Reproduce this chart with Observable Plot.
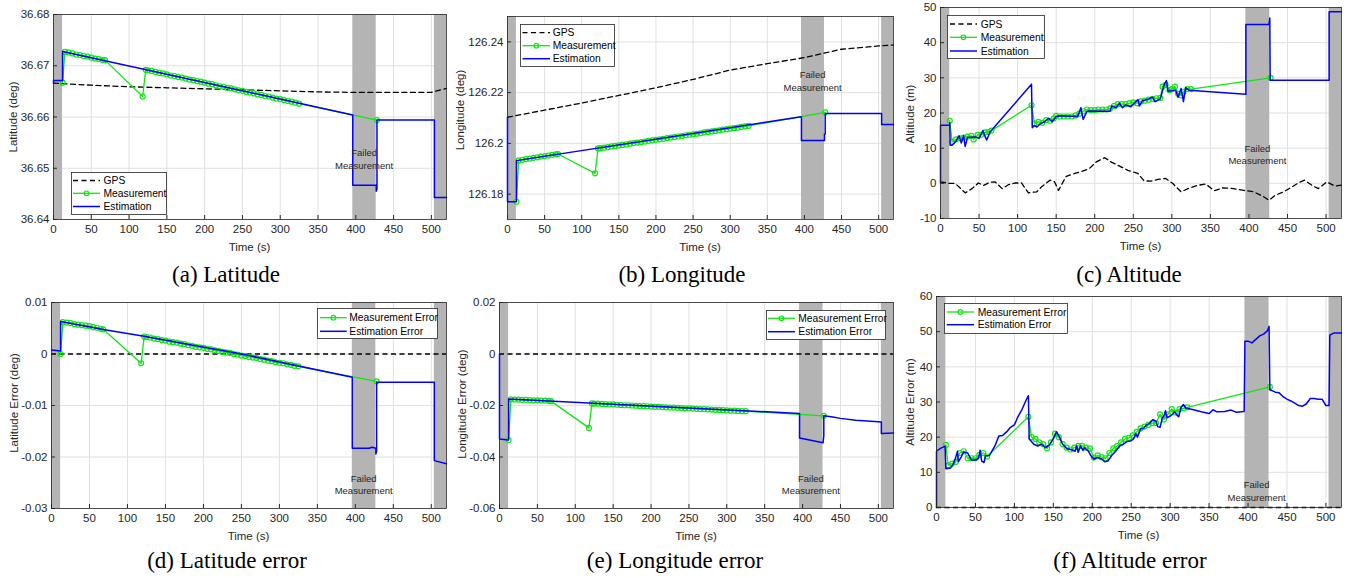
<!DOCTYPE html>
<html><head><meta charset="utf-8">
<script src="https://cdn.jsdelivr.net/npm/d3@7"></script>
<script src="https://cdn.jsdelivr.net/npm/@observablehq/plot@0.6"></script>
<style>
body{margin:0;background:#fff;}
#root{position:relative;width:1348px;height:578px;overflow:hidden;font-family:"Liberation Sans",Arial,Helvetica,sans-serif;color:#262626;background:#fff;}
.ylab{position:absolute;transform:translate(-50%,-50%) rotate(-90deg);white-space:nowrap;font-size:11.5px;color:#262626;}
.xlab{position:absolute;transform:translate(-50%,-50%);white-space:nowrap;font-size:11.5px;color:#262626;}
.cap{position:absolute;transform:translateX(-50%);font-family:"Liberation Serif","Times New Roman",serif;font-size:23px;line-height:23px;color:#000;white-space:nowrap;}
</style></head><body><div id="root"></div><script>
// ---------- data ----------
const timeTicks = [0,50,100,150,200,250,300,350,400,450,500];
const failedSpans = [[0,12],[396,427],[504,520]];
const failedLabel = "Failed\nMeasurement";
const topLegendLabels = ["GPS","Measurement","Estimation"];
const errLegendLabels = ["Measurement Error","Estimation Error"];
const captions = ["(a) Latitude","(b) Longitude","(c) Altitude","(d) Latitude error","(e) Longitude error","(f) Altitude error"];
const yLabels = ["Latitude (deg)","Longitude (deg)","Altitude (m)","Latitude Error (deg)","Longitude Error (deg)","Altitude Error (m)"];
const xLabel = "Time (s)";

const latTicks = [36.64,36.65,36.66,36.67,36.68];
const lonTicks = [126.18,126.2,126.22,126.24];
const altTicks = [-10,0,10,20,30,40,50];
const latErrTicks = [-0.03,-0.02,-0.01,0,0.01];
const lonErrTicks = [-0.06,-0.04,-0.02,0,0.02];
const altErrTicks = [0,10,20,30,40,50,60];

const latGps = [[0,36.6666],[50,36.6662],[100,36.6659],[150,36.6657],[200,36.6655],[250,36.6653],[300,36.6651],[350,36.6649],[400,36.6648],[450,36.6648],[500,36.6648],[510,36.6652],[520,36.6656]];
const latEst = [[0,36.6666],[0,36.6671],[12,36.6671],[12,36.6728],[396,36.6604],[396,36.6467],[427,36.6467],[427,36.6455],[428,36.6459],[428,36.6594],[504,36.6594],[504,36.6443],[520,36.6443]];
const latMeas = [[12,36.6667],[15,36.6727],[20,36.6726],[25,36.6724],[30,36.6722],[35,36.6721],[40,36.6719],[45,36.6718],[50,36.6716],[55,36.6714],[60,36.6713],[65,36.6711],[68,36.6711],[118,36.6640],[122,36.6692],[125,36.6691],[130,36.6690],[135,36.6688],[140,36.6686],[145,36.6685],[150,36.6683],[155,36.6681],[160,36.6680],[165,36.6678],[170,36.6677],[175,36.6675],[180,36.6673],[185,36.6672],[190,36.6670],[195,36.6669],[200,36.6667],[205,36.6665],[210,36.6664],[215,36.6662],[220,36.6660],[225,36.6659],[230,36.6657],[235,36.6656],[240,36.6654],[245,36.6652],[250,36.6651],[255,36.6649],[260,36.6648],[265,36.6646],[270,36.6644],[275,36.6643],[280,36.6641],[285,36.6640],[290,36.6638],[295,36.6636],[300,36.6635],[305,36.6633],[310,36.6631],[315,36.6630],[320,36.6628],[325,36.6626],[428,36.6594]];

const lonGps = [[0,126.2103],[50,126.2131],[100,126.2159],[150,126.2189],[200,126.2219],[250,126.2252],[300,126.2289],[350,126.2314],[400,126.2338],[450,126.2371],[500,126.2384],[520,126.2388]];
const lonEst = [[0,126.2103],[0,126.1770],[12,126.1770],[12,126.1932],[396,126.2105],[396,126.2011],[427,126.2011],[427,126.2037],[428,126.2037],[428,126.2118],[504,126.2118],[504,126.2074],[520,126.2074]];
const lonMeas = [[12,126.1770],[15,126.1933],[20,126.1935],[25,126.1938],[30,126.1940],[35,126.1943],[40,126.1945],[45,126.1948],[50,126.1950],[55,126.1952],[60,126.1955],[65,126.1957],[68,126.1958],[118,126.1882],[122,126.1980],[125,126.1981],[130,126.1983],[135,126.1985],[140,126.1988],[145,126.1990],[150,126.1992],[155,126.1994],[160,126.1996],[165,126.1999],[170,126.2001],[175,126.2003],[180,126.2005],[185,126.2007],[190,126.2010],[195,126.2012],[200,126.2014],[205,126.2016],[210,126.2018],[215,126.2021],[220,126.2023],[225,126.2025],[230,126.2027],[235,126.2029],[240,126.2032],[245,126.2034],[250,126.2036],[255,126.2038],[260,126.2040],[265,126.2043],[270,126.2045],[275,126.2047],[280,126.2049],[285,126.2051],[290,126.2054],[295,126.2056],[300,126.2058],[305,126.2060],[310,126.2062],[315,126.2065],[320,126.2067],[325,126.2069],[428,126.2122]];

const altGps = [[0,0.4],[11,0.0],[19,0.0],[32,-2.7],[41,-1.5],[49,0.1],[56,-0.6],[64,0.3],[71,0.4],[80,-1.5],[88,-0.4],[97,0.1],[105,0.1],[114,-2.7],[125,-2.4],[131,-1.0],[142,0.9],[148,0.4],[153,-2.0],[163,2.0],[174,2.8],[182,3.3],[193,4.2],[202,6.1],[213,7.3],[221,6.1],[234,4.7],[243,3.7],[256,2.8],[264,0.7],[273,0.6],[282,1.1],[292,1.4],[301,0.0],[312,-2.4],[321,-1.5],[333,-0.6],[344,-0.2],[355,-2.1],[366,-1.3],[380,-1.5],[393,-2.0],[406,-2.4],[419,-3.8],[426,-4.8],[434,-3.4],[445,-2.4],[456,-1.0],[464,0.1],[472,0.9],[482,-0.6],[490,-1.5],[501,0.4],[512,-0.8],[520,-0.5]];
const altEst = [[0,0],[0,16.5],[12,16.5],[12,17.2],[12.5,10.8],[15,10.8],[20,12.0],[24,13.5],[27,11.5],[30,13.5],[32,10.5],[35,13.0],[45,13.2],[50,12.8],[55,15.0],[58,13.2],[60,12.3],[64,14.5],[118,28.2],[119,15.8],[122,16.5],[125,16.0],[130,17.0],[135,17.5],[140,18.5],[145,17.5],[150,19.0],[155,19.2],[178,19.0],[182,21.5],[185,18.2],[190,20.5],[195,20.6],[220,20.5],[222,22.0],[228,21.5],[232,22.8],[236,21.5],[240,22.3],[247,21.8],[250,22.5],[256,23.8],[258,22.0],[262,23.5],[270,24.0],[275,24.5],[278,23.2],[285,24.0],[290,28.0],[293,29.2],[295,26.2],[305,26.5],[308,24.5],[312,27.0],[315,23.2],[318,27.2],[322,26.5],[396,25.3],[396,45.2],[426,45.2],[427,47.0],[427.5,29.3],[504,29.3],[504,48.8],[520,48.8]];
const altMeas = [[12,17.8],[15,11.8],[20,12.5],[25,12.8],[30,13.0],[35,13.3],[40,13.5],[43,12.5],[48,13.8],[53,13.8],[58,14.5],[62,14.6],[66,15.0],[118,22.2],[122,17.0],[127,17.5],[132,17.2],[137,18.0],[142,17.8],[147,18.5],[150,19.2],[155,19.0],[160,19.0],[165,19.0],[170,19.0],[175,19.3],[180,19.8],[185,20.5],[190,21.0],[195,20.8],[200,20.8],[205,21.0],[210,21.0],[215,21.0],[220,21.3],[225,22.0],[230,22.5],[235,22.5],[240,22.5],[245,22.8],[250,23.0],[255,22.8],[260,23.3],[265,23.5],[270,23.8],[275,24.0],[280,24.2],[285,24.3],[288,27.5],[292,28.0],[297,26.5],[300,26.8],[304,27.5],[308,25.5],[312,25.0],[315,26.0],[320,26.8],[325,26.8],[428,30.0]];

const latErrEst = [[0,0.0008],[12,0.0006],[12,0.0063],[70,0.0047],[120,0.0035],[250,0.0000],[396,-0.0045],[396,-0.0183],[418,-0.0183],[422,-0.0181],[427,-0.0183],[427,-0.0194],[428,-0.0190],[428,-0.0055],[504,-0.0055],[504,-0.0207],[520,-0.0213]];
const latErrMeas = [[12,0.0000],[15,0.0062],[20,0.0061],[25,0.0060],[30,0.0058],[35,0.0057],[40,0.0056],[45,0.0055],[50,0.0054],[55,0.0052],[60,0.0051],[65,0.0049],[68,0.0048],[118,-0.0018],[122,0.0034],[125,0.0033],[130,0.0032],[135,0.0030],[140,0.0029],[145,0.0027],[150,0.0026],[155,0.0024],[160,0.0023],[165,0.0022],[170,0.0020],[175,0.0019],[180,0.0017],[185,0.0016],[190,0.0014],[195,0.0013],[200,0.0012],[205,0.0010],[210,0.0009],[215,0.0007],[220,0.0006],[225,0.0004],[230,0.0003],[235,0.0002],[240,0.0000],[245,-0.0001],[250,-0.0003],[255,-0.0004],[260,-0.0006],[265,-0.0007],[270,-0.0008],[275,-0.0010],[280,-0.0011],[285,-0.0013],[290,-0.0014],[295,-0.0016],[300,-0.0017],[305,-0.0018],[310,-0.0020],[315,-0.0021],[320,-0.0023],[325,-0.0024],[428,-0.0053]];

const lonErrEst = [[0,0],[0,-0.0330],[12,-0.0334],[12,-0.0175],[396,-0.0231],[396,-0.0326],[427,-0.0345],[428,-0.0318],[428,-0.0240],[440,-0.0245],[450,-0.0250],[470,-0.0257],[500,-0.0263],[504,-0.0264],[504,-0.0309],[520,-0.0307]];
const lonErrMeas = [[12,-0.0334],[15,-0.0176],[20,-0.0177],[25,-0.0177],[30,-0.0178],[35,-0.0178],[40,-0.0179],[45,-0.0180],[50,-0.0180],[55,-0.0181],[60,-0.0181],[65,-0.0182],[68,-0.0183],[118,-0.0287],[122,-0.0192],[125,-0.0193],[130,-0.0193],[135,-0.0194],[140,-0.0195],[145,-0.0196],[150,-0.0196],[155,-0.0197],[160,-0.0198],[165,-0.0199],[170,-0.0199],[175,-0.0200],[180,-0.0201],[185,-0.0202],[190,-0.0202],[195,-0.0203],[200,-0.0204],[205,-0.0205],[210,-0.0205],[215,-0.0206],[220,-0.0207],[225,-0.0208],[230,-0.0208],[235,-0.0209],[240,-0.0210],[245,-0.0211],[250,-0.0211],[255,-0.0212],[260,-0.0213],[265,-0.0214],[270,-0.0214],[275,-0.0215],[280,-0.0216],[285,-0.0217],[290,-0.0217],[295,-0.0218],[300,-0.0219],[305,-0.0220],[310,-0.0220],[315,-0.0221],[320,-0.0222],[325,-0.0222],[428,-0.0240]];

const altErrEst = [[0,0],[0,16.0],[5,16.8],[10,17.3],[11,17.5],[12,11.0],[18,11.2],[22,12.5],[25,14.5],[27,16.0],[28,13.0],[32,14.5],[35,15.8],[40,15.5],[45,13.5],[50,13.5],[54,14.0],[56,16.3],[58,13.2],[61,12.8],[63,14.7],[68,14.8],[75,17.5],[80,20.3],[85,20.5],[90,21.5],[95,22.8],[100,23.5],[105,26.0],[110,28.0],[115,30.5],[118,31.8],[119,19.5],[125,18.0],[130,17.5],[135,18.0],[140,17.0],[145,17.8],[150,19.5],[154,21.5],[158,20.0],[162,18.0],[167,16.8],[172,16.5],[178,16.0],[180,17.5],[182,15.7],[185,17.5],[188,16.2],[190,17.0],[195,16.0],[198,14.8],[202,13.8],[207,14.2],[212,13.8],[216,13.0],[220,13.2],[225,14.8],[230,16.0],[235,17.5],[240,18.0],[245,18.8],[250,19.0],[253,19.5],[256,21.0],[258,20.0],[262,22.3],[266,22.5],[270,23.5],[274,24.0],[278,25.0],[282,24.5],[284,23.0],[287,22.8],[290,25.5],[292,26.0],[294,27.5],[296,25.5],[300,26.0],[303,26.5],[306,27.2],[309,26.2],[311,25.8],[314,28.5],[317,29.3],[320,28.3],[330,27.8],[340,27.2],[350,26.7],[355,27.8],[360,27.2],[370,27.3],[378,27.7],[385,27.1],[395,27.3],[396,47.3],[400,47.3],[405,46.8],[410,47.8],[415,48.8],[420,49.3],[425,50.3],[427,51.5],[428,33.5],[435,32.8],[440,32.6],[445,31.5],[450,30.8],[455,30.3],[460,29.7],[465,29.0],[470,28.8],[475,29.5],[480,31.0],[485,31.0],[490,30.8],[495,30.8],[500,29.0],[504,29.0],[505,49.0],[510,49.6],[520,49.6]];
const altErrMeas = [[12,17.8],[15,12.0],[20,12.5],[25,13.0],[30,15.5],[35,16.0],[40,14.0],[45,14.0],[50,14.0],[55,15.0],[60,15.5],[65,14.5],[118,25.8],[122,20.0],[127,19.5],[132,18.5],[137,18.0],[142,16.8],[147,18.5],[152,21.0],[157,20.0],[162,18.0],[167,17.0],[172,16.5],[177,17.0],[182,17.5],[187,17.5],[192,17.0],[197,16.8],[202,14.2],[207,14.8],[212,14.3],[217,14.0],[222,15.5],[227,16.8],[232,17.5],[237,18.5],[242,19.5],[247,19.8],[252,20.5],[257,21.5],[262,22.5],[267,23.0],[272,23.5],[277,24.0],[282,24.0],[287,26.5],[292,25.0],[297,26.5],[302,28.0],[307,27.0],[312,28.0],[317,28.2],[322,28.5],[428,34.3]];

// ---------- styling / layout ----------
const GREEN = "#10e610", BLUE = "#0000ff", GRID = "#e0e0e0", SHADE = "#b4b4b4", INK = "#262626";
const fmtNum = d => String(+d.toFixed(4));
const root = document.getElementById("root");

const panels = [
  {fx:53, fy:14, fw:393, fh:205, y:[36.64,36.68], ticks:latTicks, gps:latGps, meas:latMeas, est:latEst, failedY:36.6519, ylabX:13, ylabY:117,
   leg:{x:71,y:172,w:95,h:42,sx1:73,sx2:100,tx:103.5,rows:[180.5,193.3,206.5],labels:topLegendLabels,kinds:["gps","meas","est"]}},
  {fx:507, fy:16, fw:386, fh:203, y:[126.17,126.25], ticks:lonTicks, gps:lonGps, meas:lonMeas, est:lonEst, failedY:126.2248, ylabX:460, ylabY:110,
   leg:{x:520,y:24,w:94,h:42,sx1:522.5,sx2:550,tx:552.7,rows:[32.7,45.7,58.7],labels:topLegendLabels,kinds:["gps","meas","est"]}},
  {fx:940, fy:7, fw:401, fh:211, y:[-10,50], ticks:altTicks, gps:altGps, meas:altMeas, est:altEst, failedY:8.3, ylabX:910, ylabY:114,
   leg:{x:947,y:15,w:97,h:43,sx1:950,sx2:977,tx:980.7,rows:[24,37.3,51],labels:topLegendLabels,kinds:["gps","meas","est"]}},
  {fx:51, fy:302, fw:395, fh:206, y:[-0.03,0.01], ticks:latErrTicks, zero:true, meas:latErrMeas, est:latErrEst, failedY:-0.0252, ylabX:14, ylabY:403,
   leg:{x:317,y:308,w:120,h:30,sx1:320,sx2:346.7,tx:349.3,rows:[317.7,331.3],labels:errLegendLabels,kinds:["meas","est"]}},
  {fx:499, fy:302, fw:394, fh:206, y:[-0.06,0.02], ticks:lonErrTicks, zero:true, meas:lonErrMeas, est:lonErrEst, failedY:-0.0505, ylabX:461.5, ylabY:404,
   leg:{x:766,y:310,w:119,h:29,sx1:768,sx2:795,tx:798.3,rows:[318.3,331.7],labels:errLegendLabels,kinds:["meas","est"]}},
  {fx:936, fy:296, fw:405, fh:211, y:[0,60], ticks:altErrTicks, zero:true, meas:altErrMeas, est:altErrEst, failedY:4.8, ylabX:910, ylabY:402,
   leg:{x:944,y:303,w:123,h:30,sx1:946.7,sx2:974,tx:977.7,rows:[312,324.7],labels:errLegendLabels,kinds:["meas","est"]}}
];
const capPos = [[226,262.5],[682,262.5],[1129,262.5],[227,549],[675,549],[1130,549]];

const mL = 60, mR = 10, mT = 10, mB = 40;
panels.forEach((p, i) => {
  const marks = [
    Plot.gridX(timeTicks, {stroke: GRID, strokeOpacity: 1}),
    Plot.gridY(p.ticks, {stroke: GRID, strokeOpacity: 1}),
    Plot.rect(failedSpans, {x1: d => d[0], x2: d => d[1], fill: SHADE})
  ];
  if (p.gps) marks.push(Plot.line(p.gps, {x: d => d[0], y: d => d[1], stroke: "#000", strokeWidth: 1.3, strokeDasharray: "5,3.5"}));
  if (p.zero) marks.push(Plot.ruleY([0], {stroke: "#000", strokeWidth: 1.3, strokeDasharray: "5,3.5"}));
  marks.push(
    Plot.line(p.meas, {x: d => d[0], y: d => d[1], stroke: GREEN, strokeWidth: 1.3}),
    Plot.dot(p.meas, {x: d => d[0], y: d => d[1], r: 2.5, stroke: GREEN, fill: "none", strokeWidth: 1.2}),
    Plot.line(p.est, {x: d => d[0], y: d => d[1], stroke: BLUE, strokeWidth: 1.5}),
    Plot.text([{t: 411, v: p.failedY}], {x: "t", y: "v", text: () => failedLabel, fontSize: 9.5, lineHeight: 1.3, fill: INK}),
    Plot.frame({stroke: INK, strokeWidth: 0.8}),
    Plot.axisX(timeTicks, {anchor: "bottom", tickSize: -4, tickPadding: 9, tickFormat: d => String(d), label: null, stroke: INK, fill: INK, fontSize: 11.5}),
    Plot.axisY(p.ticks, {anchor: "left", tickSize: -4, tickPadding: 8, tickFormat: fmtNum, label: null, stroke: INK, fill: INK, fontSize: 11.5})
  );
  const svg = Plot.plot({
    width: p.fw + mL + mR, height: p.fh + mT + mB,
    marginLeft: mL, marginRight: mR, marginTop: mT, marginBottom: mB,
    x: {domain: [0, 520]}, y: {domain: p.y},
    style: {fontFamily: "'Liberation Sans', Arial, sans-serif", fontSize: "11.5px", color: INK, background: "transparent", overflow: "visible"},
    marks
  });
  svg.style.position = "absolute";
  svg.style.left = (p.fx - mL) + "px";
  svg.style.top = (p.fy - mT) + "px";
  root.appendChild(svg);

  const yl = document.createElement("div");
  yl.className = "ylab"; yl.textContent = yLabels[i];
  yl.style.left = p.ylabX + "px"; yl.style.top = p.ylabY + "px";
  root.appendChild(yl);

  const xl = document.createElement("div");
  xl.className = "xlab"; xl.textContent = xLabel;
  xl.style.left = (p.fx + p.fw / 2) + "px"; xl.style.top = (p.fy + p.fh + 28) + "px";
  root.appendChild(xl);

  const cap = document.createElement("div");
  cap.className = "cap"; cap.textContent = captions[i];
  cap.style.left = capPos[i][0] + "px"; cap.style.top = capPos[i][1] + "px";
  root.appendChild(cap);
});

// legends overlay
const ov = d3.select(root).append("svg").attr("width", 1348).attr("height", 578)
  .style("position", "absolute").style("left", "0px").style("top", "0px")
  .style("font-family", "'Liberation Sans', Arial, sans-serif");
panels.forEach(p => {
  const L = p.leg;
  ov.append("rect").attr("x", L.x + 0.5).attr("y", L.y + 0.5).attr("width", L.w).attr("height", L.h)
    .attr("fill", "#fff").attr("stroke", INK).attr("stroke-width", 0.8);
  L.labels.forEach((lab, j) => {
    const y = L.rows[j], k = L.kinds[j];
    const ln = ov.append("line").attr("x1", L.sx1).attr("x2", L.sx2).attr("y1", y).attr("y2", y);
    if (k === "gps") ln.attr("stroke", "#000").attr("stroke-width", 1.3).attr("stroke-dasharray", "5,3.5");
    if (k === "meas") {
      ln.attr("stroke", GREEN).attr("stroke-width", 1.3);
      ov.append("circle").attr("cx", (L.sx1 + L.sx2) / 2).attr("cy", y).attr("r", 2.3).attr("fill", "none").attr("stroke", GREEN).attr("stroke-width", 1.2);
    }
    if (k === "est") ln.attr("stroke", BLUE).attr("stroke-width", 1.5);
    ov.append("text").attr("x", L.tx).attr("y", y).attr("dy", "0.35em").attr("font-size", 10.3).attr("fill", "#000").text(lab);
  });
});
</script></body></html>
